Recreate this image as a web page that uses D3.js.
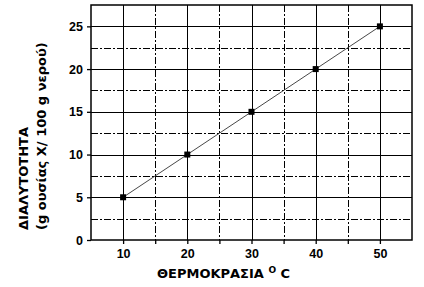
<!DOCTYPE html>
<html>
<head>
<meta charset="utf-8">
<script src="https://cdn.jsdelivr.net/npm/d3@7"></script>
<style>
  body { margin: 0; background: #fff; }
  svg { display: block; }
</style>
</head>
<body>
<div id="chart"></div>
<script>
// Data
const temperatures = [10, 20, 30, 40, 50];
const solubility = [5, 10, 15, 20, 25];
const xTicks = [10, 20, 30, 40, 50];
const xMinorTicks = [15, 25, 35, 45];
const yTicks = [0, 5, 10, 15, 20, 25];
const yMinorTicks = [2.5, 7.5, 12.5, 17.5, 22.5];

const W = 424, H = 287;
const margin = { top: 5, right: 12, bottom: 47, left: 91 };
const width = W - margin.left - margin.right;
const height = H - margin.top - margin.bottom;

const svg = d3.select("#chart")
    .append("svg")
    .attr("width", W)
    .attr("height", H);

const g = svg.append("g")
    .attr("transform", `translate(${margin.left},${margin.top})`);

const x = d3.scaleLinear().domain([5, 55]).range([0, width]);
const y = d3.scaleLinear().domain([0, 27.5]).range([height, 0]);

// grid - solid at major, dash-dot at minor
g.selectAll(".vmaj").data(xTicks).join("line")
    .attr("x1", d => Math.round(x(d)) + 0.5).attr("x2", d => Math.round(x(d)) + 0.5)
    .attr("y1", 0).attr("y2", height)
    .attr("stroke", "#000").attr("stroke-width", 1);

g.selectAll(".vmin").data(xMinorTicks).join("line")
    .attr("x1", d => Math.round(x(d)) + 0.5).attr("x2", d => Math.round(x(d)) + 0.5)
    .attr("y1", 0).attr("y2", height)
    .attr("stroke", "#000").attr("stroke-width", 1)
    .attr("stroke-dasharray", "7,2,2,2");

g.selectAll(".hmaj").data(yTicks.slice(1)).join("line")
    .attr("x1", 0).attr("x2", width)
    .attr("y1", d => Math.round(y(d)) + 0.5).attr("y2", d => Math.round(y(d)) + 0.5)
    .attr("stroke", "#000").attr("stroke-width", 1);

g.selectAll(".hmin").data(yMinorTicks).join("line")
    .attr("x1", 0).attr("x2", width)
    .attr("y1", d => Math.round(y(d)) + 0.5).attr("y2", d => Math.round(y(d)) + 0.5)
    .attr("stroke", "#000").attr("stroke-width", 1)
    .attr("stroke-dasharray", "7,2,2,2");

// frame
g.append("rect")
    .attr("x", 0).attr("y", 0)
    .attr("width", width).attr("height", height)
    .attr("fill", "none")
    .attr("stroke", "#000")
    .attr("stroke-width", 1.5);

// axes
const xAxis = g.append("g")
    .attr("transform", `translate(0,${height})`)
    .call(d3.axisBottom(x).tickValues(xTicks.concat(xMinorTicks))
        .tickSize(4).tickFormat(d => xTicks.includes(d) ? d : ""));

const yAxis = g.append("g")
    .call(d3.axisLeft(y).tickValues(yTicks).tickSize(4));

[xAxis, yAxis].forEach(a => {
    a.select(".domain").remove();
    a.selectAll(".tick line").attr("stroke", "#000").attr("stroke-width", 1.3);
    a.selectAll("text")
        .style("font-family", "'Liberation Sans', Arial, sans-serif")
        .style("font-weight", "bold")
        .style("font-size", "12.5px")
        .attr("fill", "#000");
});
xAxis.selectAll("text").attr("dy", "0.85em");
yAxis.selectAll("text").attr("x", -8);

// line + markers
const pts = temperatures.map((t, i) => ({ t, s: solubility[i] }));

g.append("path")
    .datum(pts)
    .attr("fill", "none")
    .attr("stroke", "#333")
    .attr("stroke-width", 0.9)
    .attr("d", d3.line().x(d => x(d.t)).y(d => y(d.s)));

g.selectAll(".pt").data(pts).join("rect")
    .attr("x", d => x(d.t) - 3)
    .attr("y", d => y(d.s) - 3)
    .attr("width", 6).attr("height", 6)
    .attr("fill", "#000");

// axis titles
const labelFont = "'DejaVu Sans', Verdana, sans-serif";

const xt = svg.append("text")
    .attr("x", 157)
    .attr("y", 278)
    .style("font-family", labelFont)
    .style("font-weight", "bold")
    .style("font-size", "13px");
xt.append("tspan").text("ΘΕΡΜΟΚΡΑΣΙΑ ");
xt.append("tspan").attr("dy", -5).style("font-size", "9px").text("O");
xt.append("tspan").attr("dy", 5).text(" C");

const yt = svg.append("text")
    .attr("transform", "translate(28,230) rotate(-90)")
    .style("font-family", labelFont)
    .style("font-weight", "bold")
    .style("font-size", "13px");
yt.append("tspan").attr("x", 0).attr("y", 0).text("ΔΙΑΛΥΤΟΤΗΤΑ");
yt.append("tspan").attr("x", 0).attr("y", 18).text("(g ουσίας X/ 100 g νερού)");
</script>
</body>
</html>
